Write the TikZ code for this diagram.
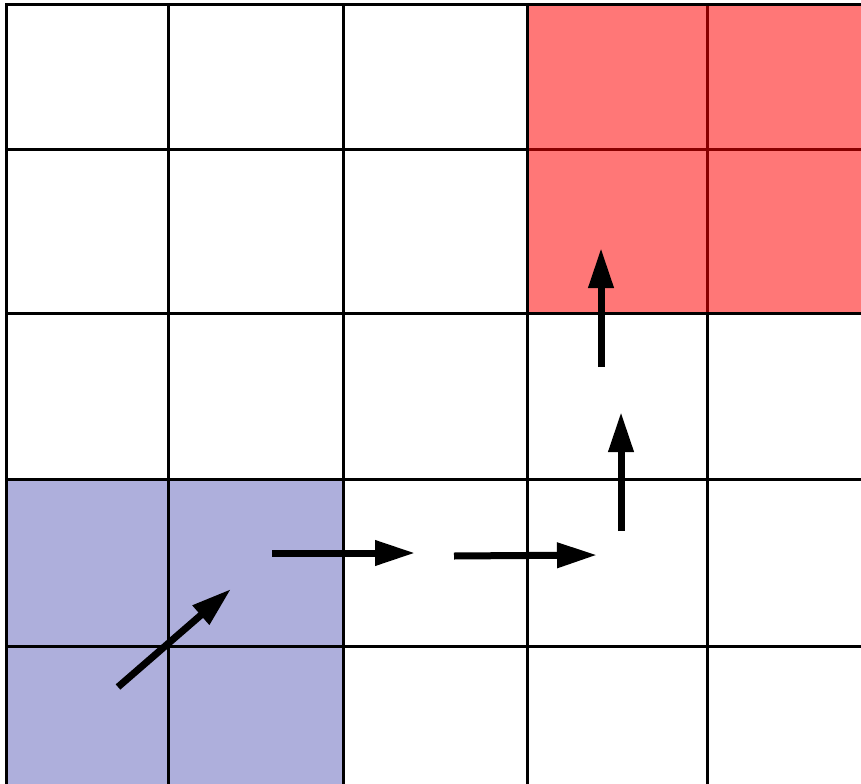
\documentclass[tikz,border=0pt]{standalone}
\usetikzlibrary{arrows.meta}
\definecolor{goalred}{HTML}{FF7777}
\definecolor{goalline}{HTML}{880000}
\definecolor{startblue}{HTML}{AEAFDC}
\tikzset{
  gridline/.style={line width=3bp, black},
  redline/.style={line width=3bp, goalline},
  movearrow/.style={line width=7bp, black, -{Triangle[length=40bp,width=24bp]}}
}
\begin{document}
\begin{tikzpicture}[x=1bp,y=-1bp]
\useasboundingbox (0,0) rectangle (861,784);
\fill[white] (0,0) rectangle (861,784);
% regions
\fill[goalred] (527,5) rectangle (861,313);
\fill[startblue] (6.5,479) rectangle (343,784);
% grid
\foreach \x in {6.5,168,343,527,707} \draw[gridline] (\x,3.5) -- (\x,784);
\foreach \y in {5,149,313,479,646} \draw[gridline] (5,\y) -- (861,\y);
% dark red inner lines of goal region
\draw[redline] (707,6.5) -- (707,311.5);
\draw[redline] (528.5,149) -- (861,149);
% arrows
\coordinate (a0) at (118,687);
\coordinate (a1) at (231,589);
\coordinate (b0) at (272,553);
\coordinate (b1) at (415,553);
\coordinate (c0) at (454,556);
\coordinate (c1) at (597,555);
\coordinate (d0) at (621,531);
\coordinate (d1) at (621,412);
\coordinate (e0) at (601,367);
\coordinate (e1) at (601,248);
\draw[movearrow] (a0) -- (a1);
\draw[movearrow] (b0) -- (b1);
\draw[movearrow] (c0) -- (c1);
\draw[movearrow] (d0) -- (d1);
\draw[movearrow] (e0) -- (e1);
\end{tikzpicture}
\end{document}
